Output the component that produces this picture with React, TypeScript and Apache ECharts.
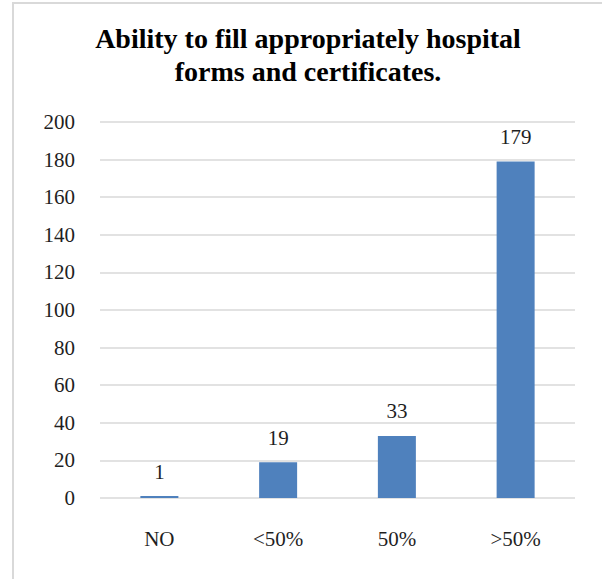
import React, { useEffect, useRef } from "react";
import * as echarts from "echarts";

const categories = ["NO", "<50%", "50%", ">50%"];
const counts = [1, 19, 33, 179];
const yTicks = { min: 0, max: 200, interval: 20 };
const titleText = "Ability to fill appropriately hospital\nforms and certificates.";

const SERIF = '"Liberation Serif", "Times New Roman", serif';

export default function App() {
  const ref = useRef<HTMLDivElement>(null);

  useEffect(() => {
    if (!ref.current) return;
    const chart = echarts.init(ref.current, undefined, { renderer: "svg" });
    chart.setOption({
      animation: false,
      backgroundColor: "#ffffff",
      title: {
        text: titleText,
        left: 308,
        top: 22,
        padding: 0,
        textAlign: "center",
        textStyle: {
          fontFamily: SERIF,
          fontWeight: "bold",
          fontSize: 28,
          lineHeight: 33,
          color: "#000000",
        },
      },
      graphic: [
        {
          type: "rect",
          shape: { x: 13, y: 3, width: 620, height: 620 },
          style: { fill: "none", stroke: "#d9d9d9", lineWidth: 2 },
          silent: true,
        },
      ],
      grid: { left: 100, right: 27, top: 122, bottom: 81 },
      xAxis: {
        type: "category",
        data: categories,
        axisLine: { show: false },
        axisTick: { show: false },
        axisLabel: {
          fontFamily: SERIF,
          fontSize: 21,
          color: "#1f1f1f",
          margin: 30,
        },
      },
      yAxis: {
        type: "value",
        min: yTicks.min,
        max: yTicks.max,
        interval: yTicks.interval,
        axisLine: { show: false },
        axisTick: { show: false },
        splitLine: { lineStyle: { color: "#d9d9d9", width: 1.5 } },
        axisLabel: {
          fontFamily: SERIF,
          fontSize: 21,
          color: "#1f1f1f",
          margin: 25,
        },
      },
      series: [
        {
          type: "bar",
          data: counts,
          barWidth: "32%",
          itemStyle: { color: "#4f81bd" },
          label: {
            show: true,
            position: "top",
            distance: 14,
            fontFamily: SERIF,
            fontSize: 21,
            color: "#1f1f1f",
          },
        },
      ],
    });
    return () => chart.dispose();
  }, []);

  return (
    <div
      ref={ref}
      style={{ position: "fixed", left: 0, top: 0, width: 602, height: 579 }}
    />
  );
}
